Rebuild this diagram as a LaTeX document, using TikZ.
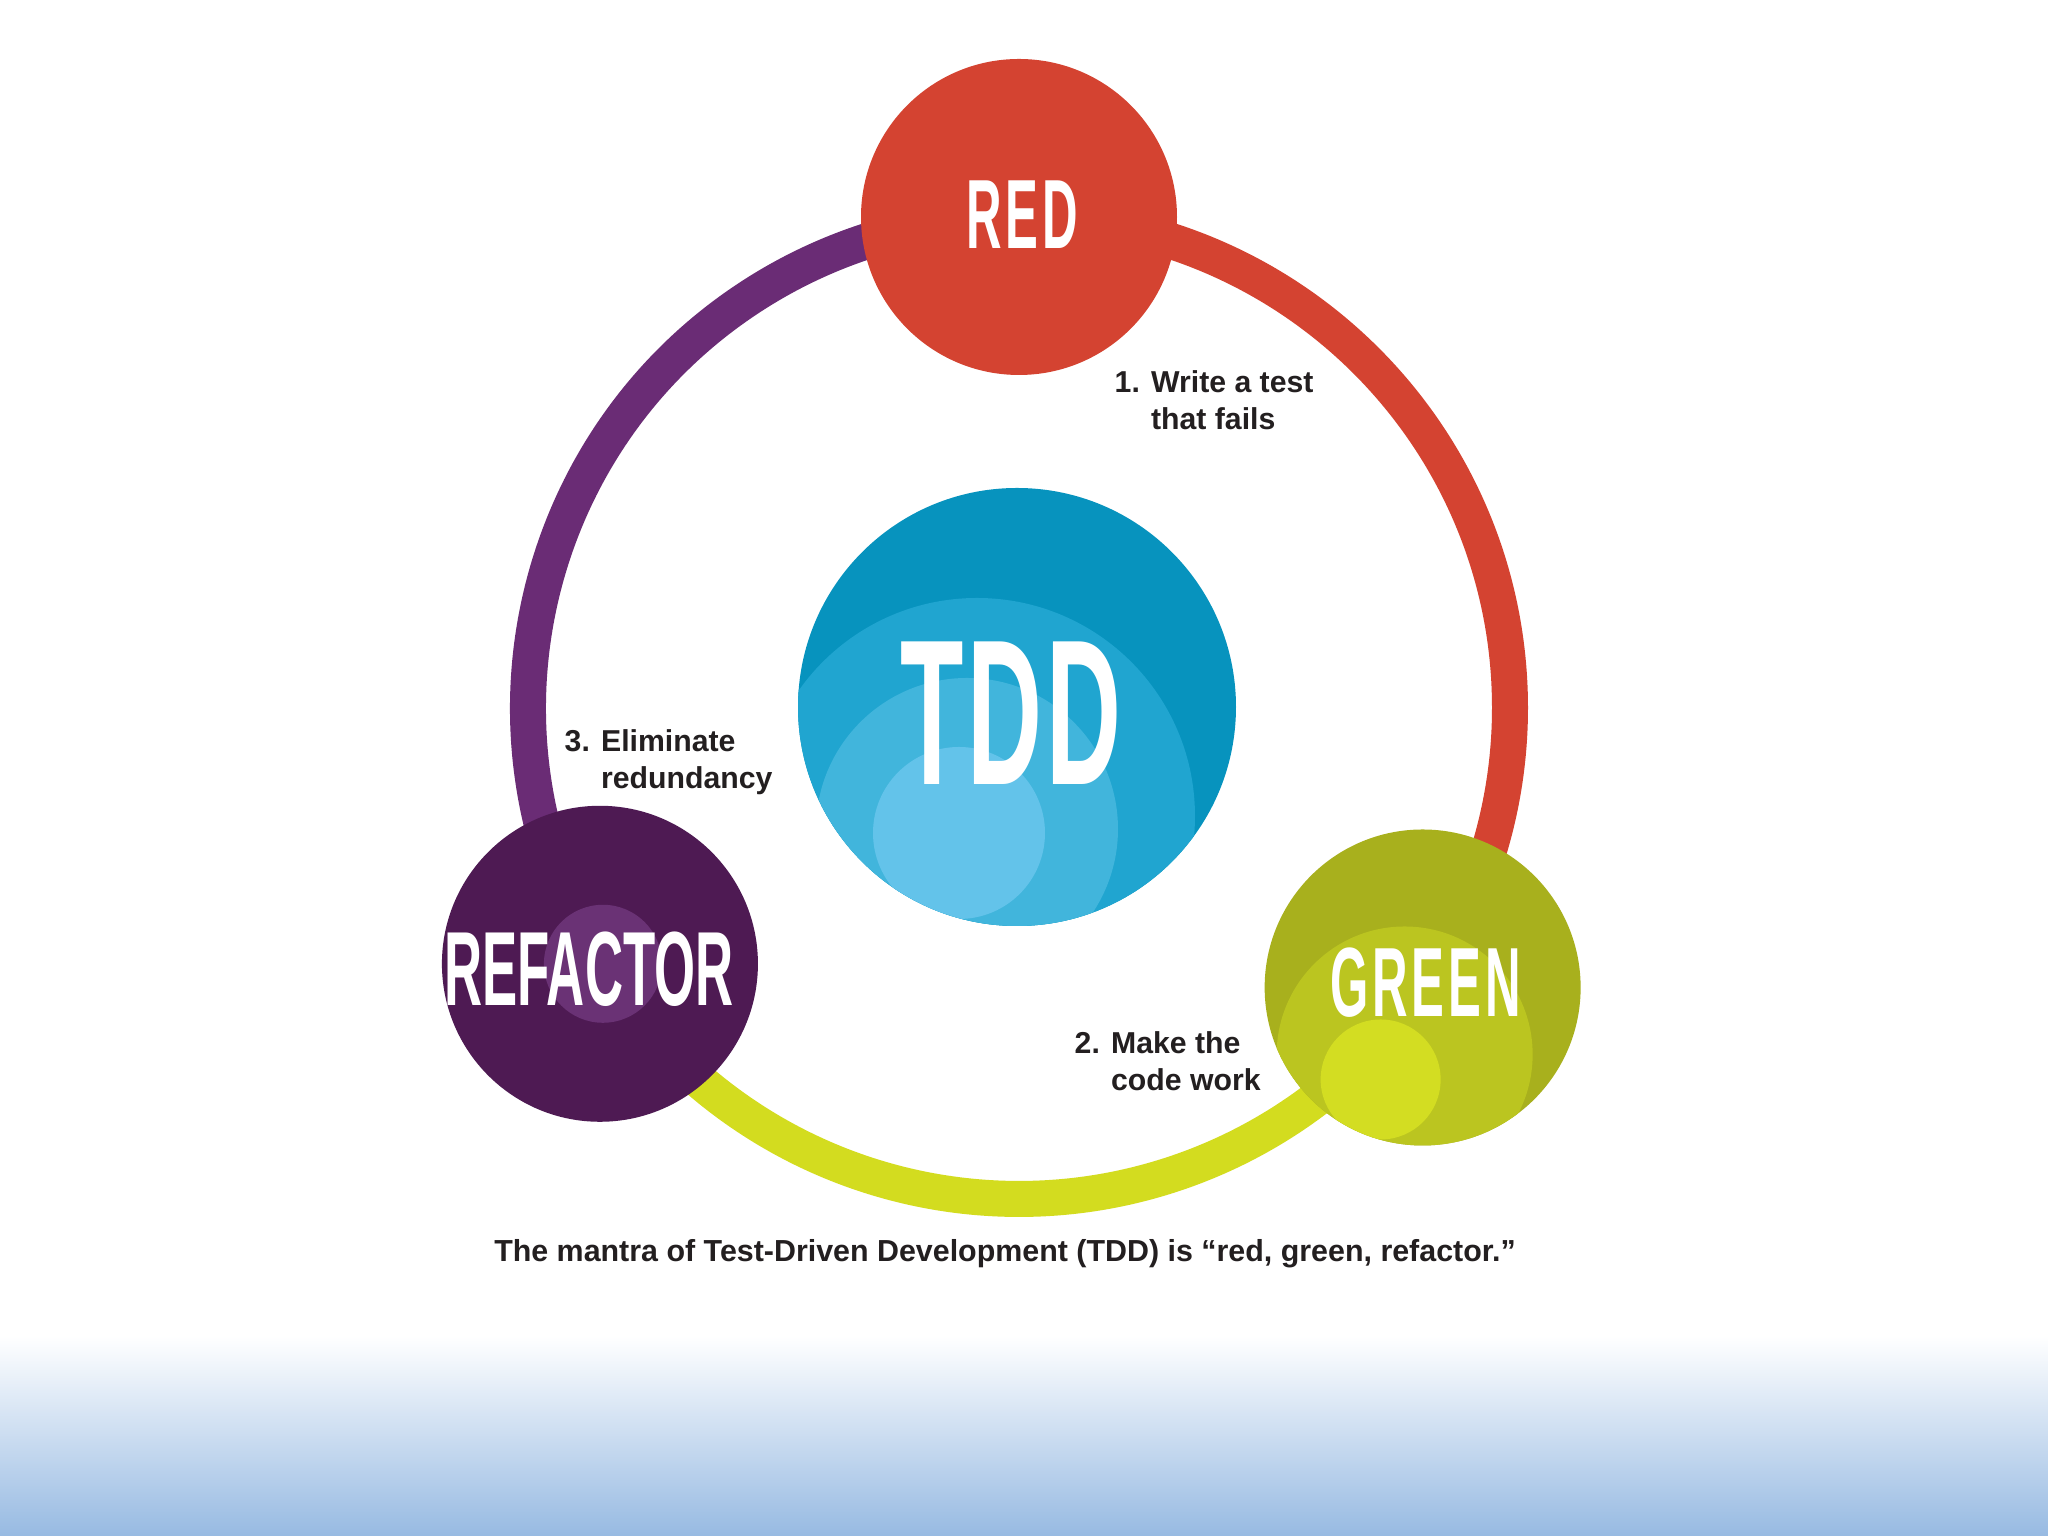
\documentclass[tikz,border=0pt]{standalone}
\usepackage{fontspec}
\setmainfont{Liberation Sans}
\newfontfamily\bannerfont[FakeStretch=0.5]{Liberation Sans}
\definecolor{tddred}{HTML}{D44331}
\definecolor{ringpurple}{HTML}{6A2C75}
\definecolor{ringyellow}{HTML}{D3DC1F}
\definecolor{refbase}{HTML}{4E1A53}
\definecolor{reflight}{HTML}{6A3275}
\definecolor{greenbase}{HTML}{A8B01D}
\definecolor{greenmid}{HTML}{BBC520}
\definecolor{greenlight}{HTML}{D3DD22}
\definecolor{tddbase}{HTML}{0793BE}
\definecolor{tddmid}{HTML}{20A5D0}
\definecolor{tddsoft}{HTML}{41B5DC}
\definecolor{tddlight}{HTML}{63C3EA}
\definecolor{textdark}{HTML}{231F20}
\definecolor{bandblue}{HTML}{97BAE2}

\begin{document}
\begin{tikzpicture}[
  ring/.style={line width=0.36cm},
  stepdisk/.style={circle, minimum size=3.16cm, inner sep=0pt},
  bannertext/.style={text=white, font=\bannerfont\bfseries\addfontfeature{LetterSpace=4}\fontsize{28}{28}\selectfont},
  steplabel/.style={anchor=west, align=left, inner sep=0pt, text=textdark, font=\bfseries\fontsize{8.6}{10.5}\selectfont}
]
  \useasboundingbox (0,0) rectangle (20.48,15.36);
  \fill[white] (0,0) rectangle (20.48,15.36);
  \shade[top color=white, bottom color=bandblue] (0,0) rectangle (20.48,2.0);

  % the cycle
  \coordinate (hub) at (10.19,8.28);
  \coordinate (redpos) at ([shift={(90:4.91)}]hub);
  \coordinate (greenpos) at ([shift={(-34.7:4.91)}]hub);
  \coordinate (refpos) at ([shift={(211.4:4.91)}]hub);
  \draw[ring, tddred] (redpos) arc[start angle=90, end angle=-34.7, radius=4.91];
  \draw[ring, ringyellow] (greenpos) arc[start angle=-34.7, end angle=-148.6, radius=4.91];
  \draw[ring, ringpurple] (refpos) arc[start angle=211.4, end angle=90, radius=4.91];

  \node[stepdisk, fill=tddred] (red) at (redpos) {};
  \node[stepdisk, fill=greenbase, path picture={
      \fill[greenmid] ([shift={(-0.18,-0.67)}]path picture bounding box.center) circle[radius=1.28];
      \fill[greenlight] ([shift={(-0.42,-0.92)}]path picture bounding box.center) circle[radius=0.60];
    }] (green) at (greenpos) {};
  \node[stepdisk, fill=refbase, path picture={
      \fill[reflight] ([shift={(0.03,0)}]path picture bounding box.center) circle[radius=0.59];
    }] (refactor) at (refpos) {};
  \node[circle, minimum size=4.38cm, inner sep=0pt, fill=tddbase, path picture={
      \fill[tddmid] ([shift={(-0.40,-1.09)}]path picture bounding box.center) circle[radius=2.18];
      \fill[tddsoft] ([shift={(-0.50,-1.22)}]path picture bounding box.center) circle[radius=1.51];
      \fill[tddlight] ([shift={(-0.58,-1.26)}]path picture bounding box.center) circle[radius=0.86];
    }] (tdd) at ([shift={(-0.02,0.01)}]hub) {};

  % names on the disks
  \node[bannertext] (redname) at ([shift={(0.03,0.02)}]red) {RED};
  \node[bannertext] (greenname) at ([shift={(0.03,0.05)}]green) {GREEN};
  \node[bannertext, font=\bannerfont\bfseries\fontsize{30}{30}\selectfont] (refname) at ([shift={(-0.11,-0.05)}]refactor) {REFACTOR};
  \node[bannertext, font=\bannerfont\bfseries\addfontfeature{LetterSpace=2}\fontsize{59}{59}\selectfont] (tddname) at ([shift={(-0.06,-0.06)}]tdd) {TDD};

  % step notes
  \node[steplabel] (write) at (11.14,11.36) {1. Write a test\\\phantom{1. }that fails};
  \node[steplabel] (make) at (10.74,4.75) {2. Make the\\\phantom{2. }code work};
  \node[steplabel] (elim) at (5.64,7.74) {3. Eliminate\\\phantom{3. }redundancy};

  \node[inner sep=0pt, text=textdark, font=\bfseries\fontsize{8.65}{9}\selectfont] (mantra) at (10.05,2.82)
    {The mantra of Test-Driven Development (TDD) is “red, green, refactor.”};
\end{tikzpicture}
\end{document}
